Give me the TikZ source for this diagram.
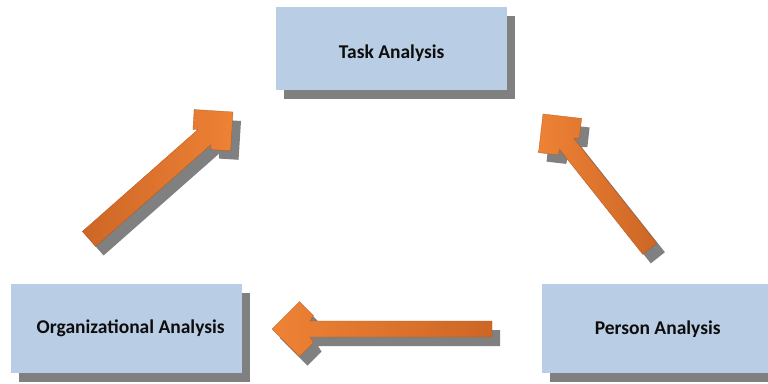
\documentclass[tikz,border=0pt]{standalone}
\usepackage{fontspec}
\setmainfont{Carlito}
\usetikzlibrary{shadows}
\definecolor{boxblue}{HTML}{B9CDE5}
\definecolor{shadowgray}{HTML}{808080}
\definecolor{orL}{HTML}{EE8235}
\definecolor{orD}{HTML}{CD6626}
\tikzset{
  box/.style={fill=boxblue, draw=none, minimum width=231pt, inner sep=0pt,
    font=\bfseries\fontsize{19.5}{22}\selectfont, text=black!95, anchor=north west,
    drop shadow={opacity=1, fill=shadowgray, shadow xshift=8pt, shadow yshift=-9pt}},
  arrowshadow/.style={fill=shadowgray},
  arrowbody/.style={draw=orD!85!black, line width=0.3pt},
}
% #1 tip, #2 angle, #3 length, #4 half width, #5 style
\newcommand\BArrow[5]{%
  \begin{scope}[shift={(#1)},rotate=#2]
    \path[#5] (0,0) -- (-27.5,-27.5) -- (-41.5,-13.5) -- (-38,-#4) -- (-#3,-#4)
      -- (-#3,#4) -- (-38,#4) -- (-41.5,13.5) -- (-27.5,27.5) -- cycle;
  \end{scope}}
\begin{document}
\begin{tikzpicture}[x=1pt,y=-1pt]
  \useasboundingbox (0,0) rectangle (768,383);
  \clip (0,0) rectangle (768,383);
  % boxes
  \node[box, minimum height=83pt] (task) at (276,7) {\raisebox{-4pt}[\height][\depth]{Task Analysis}};
  \node[box, minimum height=89pt] (org) at (11,284) {\hspace*{8pt}Organizational Analysis};
  \node[box, minimum height=89pt] (person) at (542,284) {Person Analysis};
  % arrow shadows
  \begin{scope}[shift={(8,9)}]
    \BArrow{233,112}{41.4}{192}{10}{arrowshadow}
    \BArrow{543,114}{128.4}{172}{9}{arrowshadow}
    \BArrow{272,329}{180}{220}{8}{arrowshadow}
  \end{scope}
  % arrows
  \BArrow{233,112}{41.4}{192}{10}{arrowbody, left color=orD, right color=orL}
  \BArrow{543,114}{128.4}{172}{9}{arrowbody, left color=orL, right color=orD}
  \BArrow{272,329}{180}{220}{8}{arrowbody, left color=orL, right color=orD}
\end{tikzpicture}
\end{document}
